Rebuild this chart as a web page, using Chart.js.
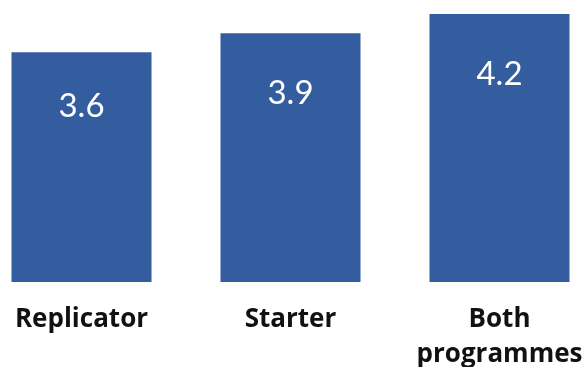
<!DOCTYPE html>
<html>
<head>
<meta charset="utf-8">
<script src="https://cdn.jsdelivr.net/npm/chart.js@4"></script>
<style>
  html, body { margin: 0; padding: 0; background: #fff; overflow: hidden; }
  #wrap { position: absolute; left: -23px; top: 0; width: 627px; height: 367px; }
</style>
</head>
<body>
<div id="wrap"><canvas id="c"></canvas></div>
<script>
const categories = [["Replicator"], ["Starter"], ["Both", "programmes"]];
const scores = [3.6, 3.9, 4.2];

// distance from each bar's top edge to the middle of its value label
const labelDrop = [54, 60, 60];

// Writes each bar's value in white just under the bar's top edge
const valueLabels = {
  id: 'valueLabels',
  afterDatasetsDraw(chart) {
    const ctx = chart.ctx;
    const meta = chart.getDatasetMeta(0);
    ctx.save();
    ctx.fillStyle = '#ffffff';
    ctx.font = '33px Lato';
    ctx.textAlign = 'center';
    ctx.textBaseline = 'middle';
    meta.data.forEach((bar, i) => {
      ctx.fillText(scores[i].toFixed(1), bar.x, bar.y + labelDrop[i]);
    });
    ctx.restore();
  }
};

new Chart(document.getElementById('c'), {
  type: 'bar',
  data: {
    labels: categories,
    datasets: [{
      data: scores,
      backgroundColor: '#345DA0',
      barPercentage: 0.67,
      categoryPercentage: 1.0
    }]
  },
  options: {
    responsive: true,
    maintainAspectRatio: false,
    animation: false,
    layout: { padding: 0 },
    plugins: { legend: { display: false }, tooltip: { enabled: false } },
    scales: {
      x: {
        grid: { display: false, drawTicks: false },
        border: { display: false },
        ticks: {
          color: '#111',
          font: { family: 'Open Sans', size: 26, weight: 'bold', lineHeight: 1.35 },
          padding: 20,
          maxRotation: 0,
          autoSkip: false
        },
        afterFit(scale) { scale.height = 85; }
      },
      y: {
        display: false,
        min: 0,
        max: 4.42
      }
    }
  },
  plugins: [valueLabels]
});
</script>
</body>
</html>
